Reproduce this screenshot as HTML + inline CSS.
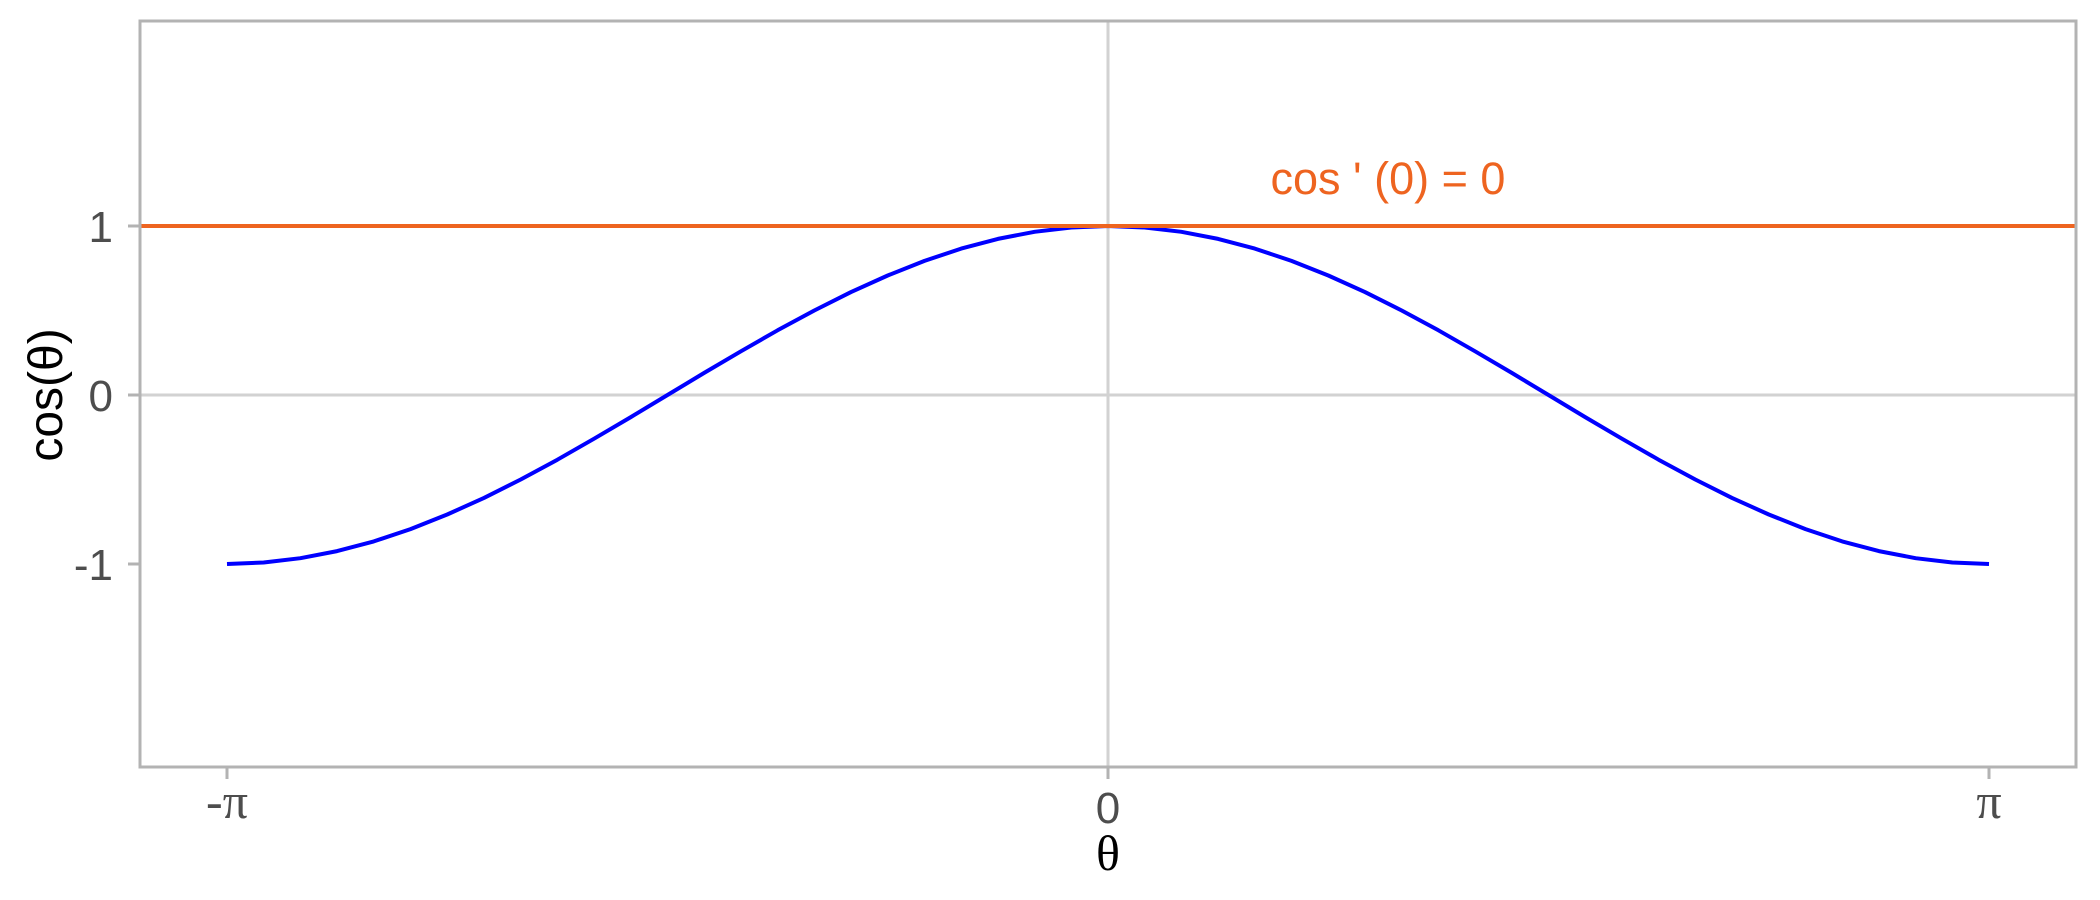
<!DOCTYPE html>
<html><head><meta charset="utf-8"><style>html,body{margin:0;padding:0;background:#fff}svg{display:block}</style></head>
<body>
<svg id="chart" width="2100" height="900" xmlns="http://www.w3.org/2000/svg">
<rect x="0" y="0" width="2100" height="900" fill="#fff"/>
<g id="grid"></g>
<g id="series"></g>
<rect x="140" y="21" width="1936" height="746" fill="none" stroke="#b3b3b3" stroke-width="3"/>
<g id="axes"></g>
<text id="annot" x="1388" y="194" text-anchor="middle" font-family="Liberation Sans, sans-serif" font-size="45" fill="#EE6420">cos ' (0) = 0</text>
<text x="1108" y="870" text-anchor="middle" font-family="Liberation Serif, serif" font-size="50" fill="#000">θ</text>
<text transform="translate(62,395) rotate(-90)" text-anchor="middle" font-family="Liberation Sans, sans-serif" font-size="48" fill="#000">cos(θ)</text>
</svg>
<script>
const thetaValues = [-3.1416,-3.0107,-2.8798,-2.7489,-2.6180,-2.4871,-2.3562,-2.2253,-2.0944,-1.9635,-1.8326,-1.7017,-1.5708,-1.4399,-1.3090,-1.1781,-1.0472,-0.9163,-0.7854,-0.6545,-0.5236,-0.3927,-0.2618,-0.1309,0,0.1309,0.2618,0.3927,0.5236,0.6545,0.7854,0.9163,1.0472,1.1781,1.3090,1.4399,1.5708,1.7017,1.8326,1.9635,2.0944,2.2253,2.3562,2.4871,2.6180,2.7489,2.8798,3.0107,3.1416];
const cosValues = [-1,-0.9914,-0.9659,-0.9239,-0.8660,-0.7934,-0.7071,-0.6088,-0.5,-0.3827,-0.2588,-0.1305,0,0.1305,0.2588,0.3827,0.5,0.6088,0.7071,0.7934,0.8660,0.9239,0.9659,0.9914,1,0.9914,0.9659,0.9239,0.8660,0.7934,0.7071,0.6088,0.5,0.3827,0.2588,0.1305,0,-0.1305,-0.2588,-0.3827,-0.5,-0.6088,-0.7071,-0.7934,-0.8660,-0.9239,-0.9659,-0.9914,-1];
const tangentValue = [1];
const xTickValues = [-Math.PI, 0, Math.PI];
const xTickLabels = ["-π", "0", "π"];
const yTickValues = [-1, 0, 1];
const yTickLabels = ["-1", "0", "1"];
const gridX = [0];
const gridY = [0];

const NS = "http://www.w3.org/2000/svg";
const X0 = 227, X1 = 1989, Y0 = 564, Y1 = 226;
function xs(v){ return X0 + (v + Math.PI) / (2*Math.PI) * (X1 - X0); }
function ys(v){ return Y0 + (v + 1) / 2 * (Y1 - Y0); }
function mk(tag, attrs, parent){ const e = document.createElementNS(NS, tag); for (const k in attrs) e.setAttribute(k, attrs[k]); parent.appendChild(e); return e; }

const grid = document.getElementById('grid');
gridX.forEach(v => {
  const l = mk('line', {x1: xs(v), x2: xs(v), y1: 21, y2: 767, stroke: '#d2d2d2', 'stroke-width': 3}, grid);
  
  
});
gridY.forEach(v => {
  const l = mk('line', {x1: 140, x2: 2076, y1: ys(v), y2: ys(v), stroke: '#d2d2d2', 'stroke-width': 3}, grid);
  
  
});

const series = document.getElementById('series');
const pts = thetaValues.map((t, i) => xs(t).toFixed(1) + ',' + ys(cosValues[i]).toFixed(1)).join(' ');
const curve = mk('polyline', {points: pts, fill: 'none', stroke: '#0000FF', 'stroke-width': 4, 'stroke-linejoin': 'round'}, series);


tangentValue.forEach(v => {
  const t = mk('line', {x1: 140, x2: 2076, y1: ys(v), y2: ys(v), stroke: '#EE6420', 'stroke-width': 4}, series);
  
  
});

const axes = document.getElementById('axes');
xTickValues.forEach((v, i) => {
  const tk = mk('line', {x1: xs(v), x2: xs(v), y1: 767, y2: 779, stroke: '#b3b3b3', 'stroke-width': 3}, axes);
  
  
  const serif = xTickLabels[i] !== "0";
  const tx = mk('text', {x: xs(v), y: serif ? 818 : 823, 'text-anchor': 'middle', 'font-family': serif ? 'Liberation Serif, serif' : 'Liberation Sans, sans-serif', 'font-size': serif ? 50 : 44, fill: '#4d4d4d'}, axes);
  tx.textContent = xTickLabels[i];
  
  
});
yTickValues.forEach((v, i) => {
  const tk = mk('line', {x1: 128, x2: 140, y1: ys(v), y2: ys(v), stroke: '#b3b3b3', 'stroke-width': 3}, axes);
  
  
  const tx = mk('text', {x: 113, y: ys(v) + 16, 'text-anchor': 'end', 'font-family': 'Liberation Sans, sans-serif', 'font-size': 44, fill: '#4d4d4d'}, axes);
  tx.textContent = yTickLabels[i];
  
  
});
</script>
</body></html>
